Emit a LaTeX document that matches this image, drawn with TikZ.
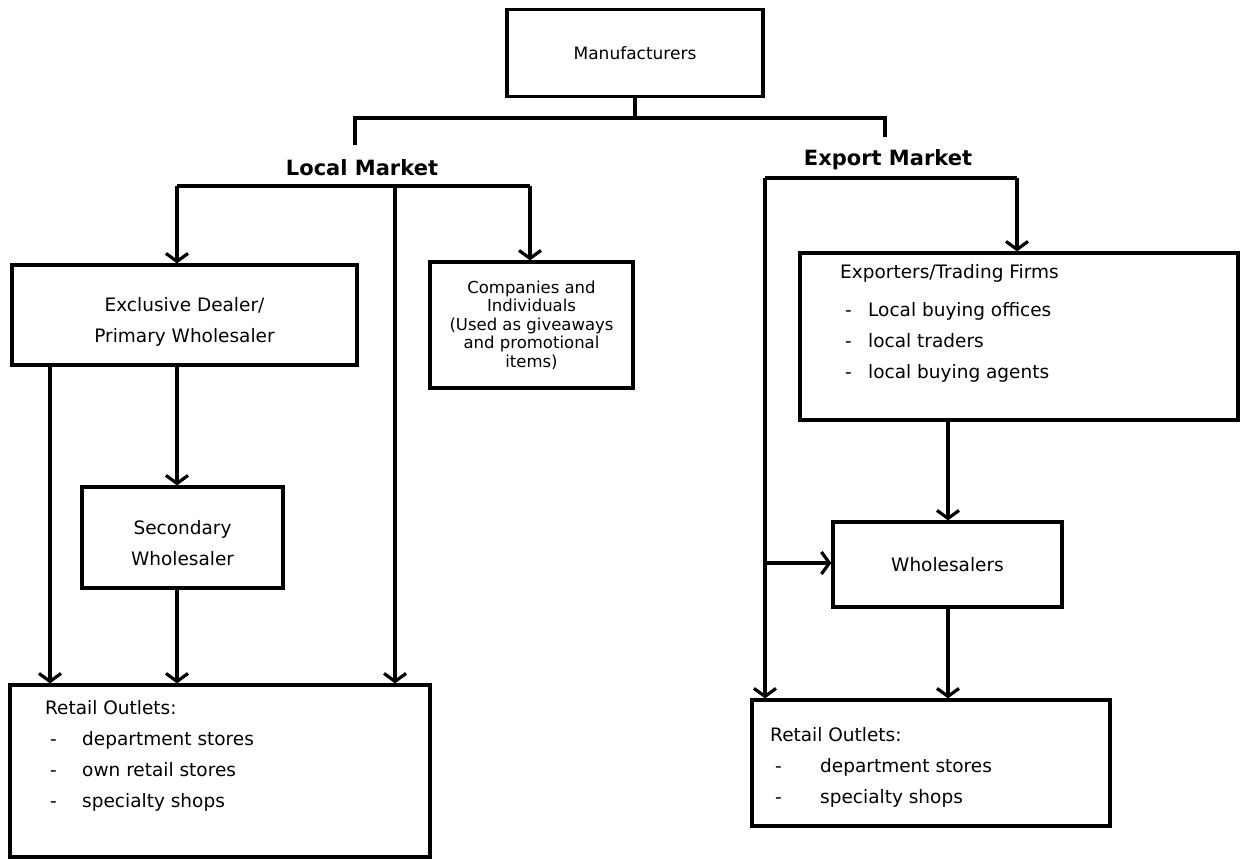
\documentclass[tikz,border=0pt]{standalone}
\usepackage{fontspec}
\setmainfont{DejaVu Sans}
\usetikzlibrary{arrows.meta}
\begin{document}
\begin{tikzpicture}[x=1pt,y=-1pt,
  box/.style={draw, line width=3.2pt, inner sep=0pt, align=center},
  ln/.style={line width=3.2pt},
  arr/.style={line width=3.2pt, -{Straight Barb[length=8pt,width=22pt,line width=3.2pt]}},
  txt/.style={font=\fontsize{18.5}{31}\selectfont, align=center, inner sep=0pt},
  ctxt/.style={font=\fontsize{16.5}{18.5}\selectfont},
  ltxt/.style={font=\fontsize{18.5}{31}\selectfont, inner sep=0pt, align=left, anchor=north west},
  mkt/.style={font=\fontsize{21}{26}\selectfont\bfseries, inner sep=0pt}]
\useasboundingbox (0,0) rectangle (1241,860);
\fill[white] (0,0) rectangle (1241,860);

% top
\node[box, font=\fontsize{17}{20}\selectfont, minimum width=256, minimum height=87] (man) at (635,53) {Manufacturers};
\coordinate (bj) at (635,118);
\coordinate (brL) at (355,145);
\coordinate (brR) at (885,137);
\draw[ln] (man.south) -- (bj);
\draw[ln] (brL) |- (bj) -| (brR);
\node[mkt] (lm) at (362,168) {Local Market};
\node[mkt] (em) at (888,160) {Export Market};

% local market
\node[box, minimum width=345, minimum height=100] (ed) at (184.5,315) {};
\node[txt] (edt) at (184.5,322) {Exclusive Dealer/\\Primary Wholesaler};
\node[box, ctxt, minimum width=203, minimum height=126] (co) at (531.5,325) {Companies and\\Individuals\\(Used as giveaways\\and promotional\\items)};
\node[box, minimum width=201, minimum height=101] (sec) at (182.5,537.5) {};
\node[txt] (sect) at (182.5,543) {Secondary\\Wholesaler};
\node[box, minimum width=420, minimum height=172] (retL) at (220,771) {};
\node[ltxt] (retLt) at (45,700) {Retail Outlets:\\
\makebox[37pt][l]{\hspace{5pt}-}department stores\\
\makebox[37pt][l]{\hspace{5pt}-}own retail stores\\
\makebox[37pt][l]{\hspace{5pt}-}specialty shops};

\coordinate (lbL) at (177,186);
\coordinate (lbM) at (395,186);
\coordinate (lbR) at (530,186);
\coordinate (c50) at (50,0);
\coordinate (c177) at (177,0);
\draw[ln] (lbL) -- (lbR);
\draw[arr] (lbL) -- (lbL |- ed.north);
\draw[arr] (lbR) -- (lbR |- co.north);
\draw[arr] (lbM) -- (lbM |- retL.north);
\draw[arr] (ed.south -| c50) -- (retL.north -| c50);
\draw[arr] (ed.south -| c177) -- (sec.north -| c177);
\draw[arr] (sec.south -| c177) -- (retL.north -| c177);

% export market
\node[box, minimum width=438, minimum height=167] (ex) at (1019,336.5) {};
\node[ltxt] (ext) at (840,264) {Exporters/Trading Firms\\[7pt]
\makebox[28pt][l]{\hspace{5pt}-}Local buying offices\\
\makebox[28pt][l]{\hspace{5pt}-}local traders\\
\makebox[28pt][l]{\hspace{5pt}-}local buying agents};
\node[box, font=\fontsize{18.5}{31}\selectfont, minimum width=229, minimum height=85] (wh) at (947.5,564.5) {Wholesalers};
\node[box, minimum width=358, minimum height=126] (retR) at (931,763) {};
\node[ltxt] (retRt) at (770,727) {Retail Outlets:\\
\makebox[50pt][l]{\hspace{5pt}-}department stores\\
\makebox[50pt][l]{\hspace{5pt}-}specialty shops};

\coordinate (ebL) at (765,178);
\coordinate (ebR) at (1017,178);
\coordinate (brW) at (765,563);
\coordinate (c948) at (948,0);
\draw[ln] (ebL) -- (ebR);
\draw[arr] (ebR) -- (ebR |- ex.north);
\draw[arr] (ebL) -- (ebL |- retR.north);
\draw[arr] (brW) -- (brW -| wh.west);
\draw[arr] (ex.south -| c948) -- (wh.north -| c948);
\draw[arr] (wh.south -| c948) -- (retR.north -| c948);
\end{tikzpicture}
\end{document}
